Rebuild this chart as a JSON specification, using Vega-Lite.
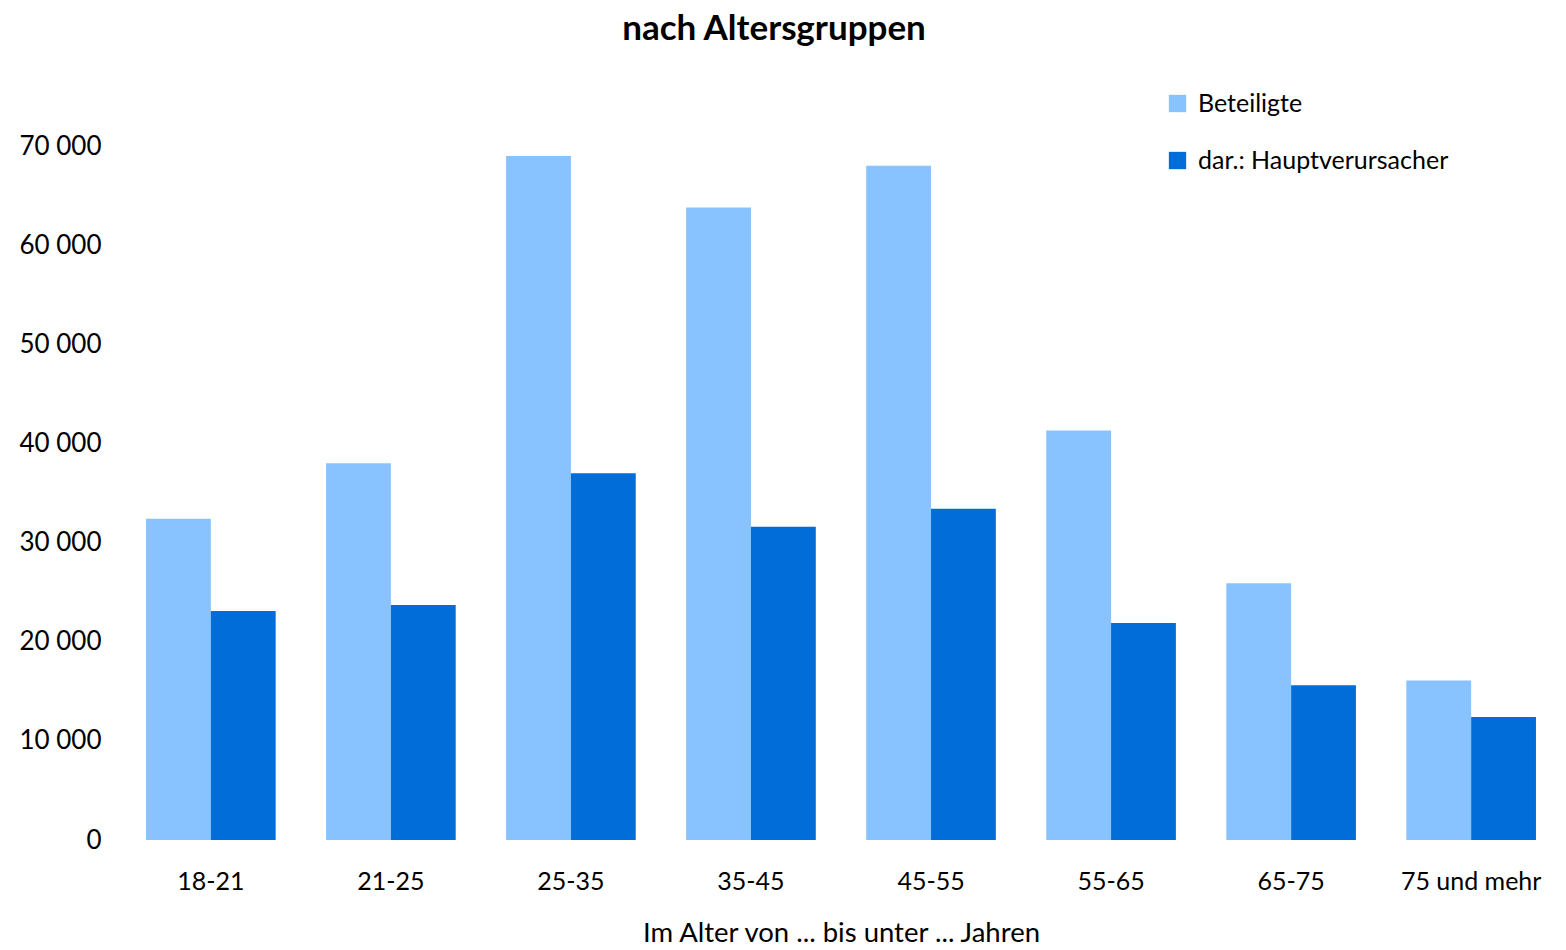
{
  "$schema": "https://vega.github.io/schema/vega-lite/v6.json",
  "autosize": "none",
  "padding": {"left": 121, "top": 146, "right": 5, "bottom": 110},
  "width": 1440,
  "height": 694,
  "config": {
    "font": "Lato",
    "view": {"stroke": null},
    "locale": {"number": {"decimal": ",", "thousands": " ", "grouping": [3], "currency": ["", " €"]}}
  },
  "title": {
    "text": "nach Altersgruppen",
    "fontSize": 35,
    "fontWeight": "bold",
    "color": "#000000",
    "anchor": "middle",
    "dx": -67,
    "offset": 44
  },
  "data": {
    "values": [
      {"Alter": "18-21", "Gruppe": "Beteiligte", "Anzahl": 32400},
      {"Alter": "18-21", "Gruppe": "dar.: Hauptverursacher", "Anzahl": 23100},
      {"Alter": "21-25", "Gruppe": "Beteiligte", "Anzahl": 38000},
      {"Alter": "21-25", "Gruppe": "dar.: Hauptverursacher", "Anzahl": 23700},
      {"Alter": "25-35", "Gruppe": "Beteiligte", "Anzahl": 69000},
      {"Alter": "25-35", "Gruppe": "dar.: Hauptverursacher", "Anzahl": 37000},
      {"Alter": "35-45", "Gruppe": "Beteiligte", "Anzahl": 63800},
      {"Alter": "35-45", "Gruppe": "dar.: Hauptverursacher", "Anzahl": 31600},
      {"Alter": "45-55", "Gruppe": "Beteiligte", "Anzahl": 68000},
      {"Alter": "45-55", "Gruppe": "dar.: Hauptverursacher", "Anzahl": 33400},
      {"Alter": "55-65", "Gruppe": "Beteiligte", "Anzahl": 41300},
      {"Alter": "55-65", "Gruppe": "dar.: Hauptverursacher", "Anzahl": 21900},
      {"Alter": "65-75", "Gruppe": "Beteiligte", "Anzahl": 25900},
      {"Alter": "65-75", "Gruppe": "dar.: Hauptverursacher", "Anzahl": 15600},
      {"Alter": "75 und mehr", "Gruppe": "Beteiligte", "Anzahl": 16100},
      {"Alter": "75 und mehr", "Gruppe": "dar.: Hauptverursacher", "Anzahl": 12400}
    ]
  },
  "mark": {"type": "bar"},
  "encoding": {
    "x": {
      "field": "Alter",
      "type": "nominal",
      "sort": null,
      "scale": {"paddingInner": 0.28, "paddingOuter": 0.139},
      "axis": {
        "title": "Im Alter von ... bis unter ... Jahren",
        "titleFontSize": 27.5,
        "titleFontWeight": "normal",
        "titleColor": "#000000",
        "titlePadding": 25,
        "labelAngle": 0,
        "labelFontSize": 25,
        "labelColor": "#000000",
        "labelPadding": 29,
        "ticks": false,
        "domain": false
      }
    },
    "xOffset": {"field": "Gruppe", "type": "nominal", "sort": ["Beteiligte", "dar.: Hauptverursacher"]},
    "y": {
      "field": "Anzahl",
      "type": "quantitative",
      "scale": {"domain": [0, 70000]},
      "axis": {
        "title": null,
        "format": ",d",
        "values": [0, 10000, 20000, 30000, 40000, 50000, 60000, 70000],
        "labelFontSize": 26,
        "labelColor": "#000000",
        "labelPadding": 20,
        "ticks": false,
        "domain": false,
        "grid": false
      }
    },
    "color": {
      "field": "Gruppe",
      "type": "nominal",
      "sort": ["Beteiligte", "dar.: Hauptverursacher"],
      "scale": {"range": ["#89C3FF", "#006DD8"]},
      "legend": {
        "title": null,
        "orient": "none",
        "legendX": 1044,
        "legendY": -55,
        "symbolType": "square",
        "symbolSize": 300,
        "symbolStrokeWidth": 0,
        "labelFontSize": 25,
        "labelColor": "#000000",
        "labelOffset": 8,
        "labelLimit": 500,
        "rowPadding": 31
      }
    }
  }
}
